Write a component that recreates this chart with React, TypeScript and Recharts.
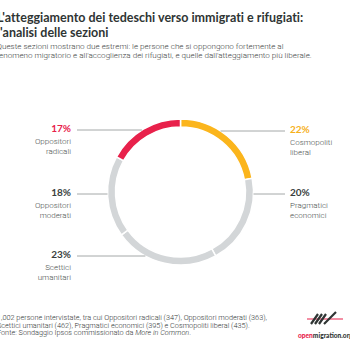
import React from 'react';
import { PieChart, Pie, Cell } from 'recharts';

const categories = ['Cosmopoliti liberal', 'Pragmatici economici', 'Scettici umanitari', 'Oppositori moderati', 'Oppositori radicali'];
const shares = [22, 20, 23, 18, 17];
const sliceColors = ['#FBB51C', '#D3D6D8', '#D3D6D8', '#D3D6D8', '#E8214B'];
const pctColors = ['#F6B11D', '#3A3F3E', '#3A3F3E', '#3A3F3E', '#E8214B'];

const title = ["L'atteggiamento dei tedeschi verso immigrati e rifugiati:", "l'analisi delle sezioni"];
const subtitle = [
  'Queste sezioni mostrano due estremi: le persone che si oppongono fortemente al',
  "fenomeno migratorio e all'accoglienza dei rifugiati, e quelle dall'atteggiamento più liberale.",
];

// layout of callouts (side, vertical offset from centre)
const calloutLayout = [
  { side: 'right', dy: -61 },
  { side: 'right', dy: 2 },
  { side: 'left', dy: 64 },
  { side: 'left', dy: 2 },
  { side: 'left', dy: -62 },
];

const data = categories.map((name, i) => ({ name, value: shares[i] }));

const LEFT_LINE_X = 77;
const LEFT_TEXT_X = 71;
const RIGHT_LINE_X = 285;
const RIGHT_TEXT_X = 290;

const renderLabel = (props: any) => {
  const { cx, cy, outerRadius, index } = props;
  const lay = calloutLayout[index];
  const y = cy + lay.dy;
  const dx = Math.sqrt(Math.max(outerRadius * outerRadius - lay.dy * lay.dy, 0));
  const ringX = lay.side === 'left' ? cx - dx : cx + dx;
  const lineX = lay.side === 'left' ? LEFT_LINE_X : RIGHT_LINE_X;
  const textX = lay.side === 'left' ? LEFT_TEXT_X : RIGHT_TEXT_X;
  const anchor = lay.side === 'left' ? 'end' : 'start';
  const words = categories[index].split(' ');
  return (
    <g key={`lbl-${index}`}>
      <line x1={lineX} y1={y} x2={ringX} y2={y} stroke="#8E9393" strokeWidth={0.8} />
      <text x={textX} y={y + 1.5} textAnchor={anchor} fontFamily="Lato, sans-serif" fontWeight={700} fontSize={10} fill={pctColors[index]}>
        {shares[index]}%
      </text>
      <text x={textX} y={y + 13.5} textAnchor={anchor} fontFamily="Roboto, sans-serif" fontWeight={300} fontSize={8} fill="#4A4F4E">
        {words[0]}
      </text>
      <text x={textX} y={y + 24} textAnchor={anchor} fontFamily="Roboto, sans-serif" fontWeight={300} fontSize={8} fill="#4A4F4E">
        {words[1]}
      </text>
    </g>
  );
};

export default function App() {
  return (
    <div style={{ position: 'fixed', left: 0, top: 0, width: 350, height: 350, background: '#fff', overflow: 'hidden' }}>
      <div style={{ position: 'absolute', left: -3, top: 10, fontFamily: 'Lato, sans-serif', fontWeight: 700, fontSize: 12.5, lineHeight: '15px', color: '#2F3534', whiteSpace: 'nowrap', fontVariantLigatures: 'none' }}>
        {title.map((t, i) => <div key={i}>{t}</div>)}
      </div>
      <div style={{ position: 'absolute', left: -3.5, top: 42, fontFamily: 'Roboto, sans-serif', fontWeight: 300, fontSize: 8.1, lineHeight: '9.3px', color: '#3E4443', whiteSpace: 'nowrap' }}>
        {subtitle.map((t, i) => <div key={i}>{t}</div>)}
      </div>
      <div style={{ position: 'absolute', left: 0, top: 0 }}>
        <PieChart width={350} height={350}>
          <Pie
            data={data}
            dataKey="value"
            nameKey="name"
            cx={175.5}
            cy={187}
            innerRadius={65}
            outerRadius={73}
            startAngle={90}
            endAngle={-270}
            stroke="#fff"
            strokeWidth={1.5}
            label={renderLabel}
            labelLine={false}
            isAnimationActive={false}
          >
            {data.map((d, i) => <Cell key={d.name} fill={sliceColors[i]} />)}
          </Pie>
        </PieChart>
      </div>
      <div style={{ position: 'absolute', left: -3, top: 314, fontFamily: 'Roboto, sans-serif', fontWeight: 300, fontSize: 7.3, lineHeight: '7.7px', color: '#2F3534', whiteSpace: 'nowrap' }}>
        <div>1,002 persone intervistate, tra cui Oppositori radicali (347), Oppositori moderati (363),</div>
        <div>Scettici umanitari (462), Pragmatici economici (395) e Cosmopoliti liberal (435).</div>
        <div>Fonte: Sondaggio Ipsos commissionato da <i>More in Common</i>.</div>
      </div>
      <svg style={{ position: 'absolute', left: 300, top: 309 }} width={50} height={20}>
        <line x1={7} y1={10} x2={43} y2={10} stroke="#E8214B" strokeWidth={1.2} />
        <path d="M11 15 L18 5 M15 15 L22 5 M19 15 L26 5 M24 15 L36 3" stroke="#2F3534" strokeWidth={2.2} fill="none" />
      </svg>
      <div style={{ position: 'absolute', left: 298, top: 331, fontFamily: 'Lato, sans-serif', fontWeight: 900, fontSize: 6.6, color: '#2F3534', whiteSpace: 'nowrap' }}>
        <span style={{ color: '#E8214B' }}>open</span>migration.org
      </div>
    </div>
  );
}
